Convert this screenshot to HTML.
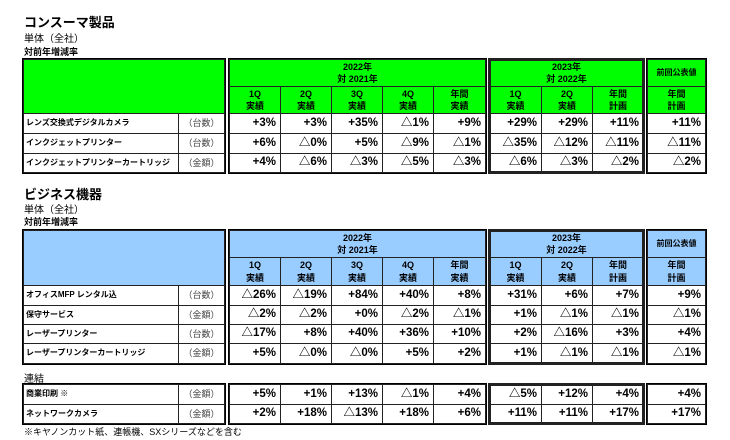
<!DOCTYPE html>
<html><head><meta charset="utf-8"><style>
body{margin:0;width:730px;height:440px;background:#fff;position:relative;overflow:hidden;font-family:"Liberation Sans","Noto Sans CJK JP",sans-serif;color:#000}
.t{position:absolute;white-space:nowrap}
.c{position:absolute;box-sizing:border-box;border:1px solid #222;display:flex;align-items:center;overflow:hidden;white-space:nowrap}
.b{position:absolute;box-sizing:border-box;border:1.5px solid #000;pointer-events:none}
.b2{position:absolute;box-sizing:border-box;border:3px solid #222;pointer-events:none}
</style></head><body>
<div class="t" style="left:24px;top:12px;font-size:13px;font-weight:bold">コンスーマ製品</div>
<div class="t" style="left:24px;top:30px;font-size:10px">単体（全社）</div>
<div class="t" style="left:24px;top:45px;font-size:9px;font-weight:bold">対前年増減率</div>
<div class="t" style="left:24px;top:184px;font-size:13px;font-weight:bold">ビジネス機器</div>
<div class="t" style="left:24px;top:201px;font-size:10px">単体（全社）</div>
<div class="t" style="left:24px;top:215px;font-size:9px;font-weight:bold">対前年増減率</div>
<div class="t" style="left:24px;top:370px;font-size:10px">連結</div>
<div class="t" style="left:24px;top:425px;font-size:9px">※キヤノンカット紙、連帳機、SXシリーズなどを含む</div>
<script>
const colsL=[23,178,224], c22=[229,280,331,382,433,485], c23=[489,541,592,643], cP=[647,705];
const consumerNames=["レンズ交換式デジタルカメラ","インクジェットプリンター","インクジェットプリンターカートリッジ"];
const consumerUnits=["（台数）","（台数）","（金額）"];
const consumerVals=[
["+3%","+3%","+35%","△1%","+9%","+29%","+29%","+11%","+11%"],
["+6%","△0%","+5%","△9%","△1%","△35%","△12%","△11%","△11%"],
["+4%","△6%","△3%","△5%","△3%","△6%","△3%","△2%","△2%"]];
const bizNames=["オフィスMFP  レンタル込","保守サービス","レーザープリンター","レーザープリンターカートリッジ"];
const bizUnits=["（台数）","（金額）","（台数）","（金額）"];
const bizVals=[
["△26%","△19%","+84%","+40%","+8%","+31%","+6%","+7%","+9%"],
["△2%","△2%","+0%","△2%","△1%","+1%","△1%","△1%","△1%"],
["△17%","+8%","+40%","+36%","+10%","+2%","△16%","+3%","+4%"],
["+5%","△0%","△0%","+5%","+2%","+1%","△1%","△1%","△1%"]];
const conNames=["商業印刷  ※","ネットワークカメラ"];
const conUnits=["（金額）","（金額）"];
const conVals=[
["+5%","+1%","+13%","△1%","+4%","△5%","+12%","+4%","+4%"],
["+2%","+18%","△13%","+18%","+6%","+11%","+11%","+17%","+17%"]];
function cell(x1,y1,x2,y2,bg,html,align,fs,bold,name,color,pad){
  const d=document.createElement('div');d.className='c';
  
  
  d.style.cssText=`left:${x1}px;top:${y1}px;width:${x2-x1+1}px;height:${y2-y1+1}px;background:${bg};justify-content:${align};font-size:${fs}px;font-weight:${bold?'bold':'normal'};padding:0 ${pad||4}px;text-align:center;line-height:1.35;color:${color||'#000'}`;
  d.innerHTML=html;document.body.appendChild(d);
}
function box(x1,y1,x2,y2,cls,name){
  const d=document.createElement('div');d.className=cls;
  
  
  d.style.cssText=`left:${x1-1}px;top:${y1-1}px;width:${x2-x1+3}px;height:${y2-y1+3}px`;
  document.body.appendChild(d);
}
function table(top,mid,hb,rowB,bg,names,units,vals,prefix){
  if(hb!==null){
    cell(colsL[0],top,colsL[2],hb,bg,"","center",9,true,prefix+'-header-blank');
    cell(c22[0],top,c22[5],mid,bg,"2022年<br>対 2021年","center",9,true,prefix+'-header-2022');
    cell(c23[0],top,c23[3],mid,bg,"2023年<br>対 2022年","center",9,true,prefix+'-header-2023');
    cell(cP[0],top,cP[1],mid,bg,"前回公表値","center",8,true,prefix+'-header-prev');
    const sub=["1Q<br>実績","2Q<br>実績","3Q<br>実績","4Q<br>実績","年間<br>実績"];
    for(let i=0;i<5;i++) cell(c22[i],mid,c22[i+1],hb,bg,sub[i],"center",9,true,prefix+'-subheader-2022-'+i);
    const sub2=["1Q<br>実績","2Q<br>実績","年間<br>計画"];
    for(let i=0;i<3;i++) cell(c23[i],mid,c23[i+1],hb,bg,sub2[i],"center",9,true,prefix+'-subheader-2023-'+i);
    cell(cP[0],mid,cP[1],hb,bg,"年間<br>計画","center",9,true,prefix+'-subheader-prev');
  }
  let y=hb===null?top:hb;
  for(let r=0;r<names.length;r++){
    const y2=rowB[r];
    cell(colsL[0],y,colsL[1],y2,"#fff",names[r],"flex-start",8,true,prefix+'-row-label-'+r,'#000',2);
    cell(colsL[1],y,colsL[2],y2,"#fff",units[r],"center",9,false,prefix+'-row-unit-'+r,'#444');
    const v=vals[r];
    for(let i=0;i<5;i++) cell(c22[i],y,c22[i+1],y2,"#fff",v[i],"flex-end",11.5,true,prefix+'-value-2022-'+r+'-'+i);
    for(let i=0;i<3;i++) cell(c23[i],y,c23[i+1],y2,"#fff",v[5+i],"flex-end",11.5,true,prefix+'-value-2023-'+r+'-'+i);
    cell(cP[0],y,cP[1],y2,"#fff",v[8],"flex-end",11.5,true,prefix+'-value-prev-'+r);
    y=y2;
  }
  const bot=rowB[rowB.length-1];
  box(colsL[0],top,colsL[2],bot,'b',prefix+'-left-frame');
  box(c22[0],top,c22[5],bot,'b',prefix+'-2022-frame');
  box(c23[0],top,c23[3],bot,'b2',prefix+'-2023-frame');
  box(cP[0],top,cP[1],bot,'b',prefix+'-prev-frame');
}
table(59,86,113,[133,153,172],"#00ff00",consumerNames,consumerUnits,consumerVals,'consumer');
table(230,257,285,[305,324,343,363],"#99ccff",bizNames,bizUnits,bizVals,'business');
table(384,null,null,[404,423],"#fff",conNames,conUnits,conVals,'consolidated');
</script>
</body></html>
